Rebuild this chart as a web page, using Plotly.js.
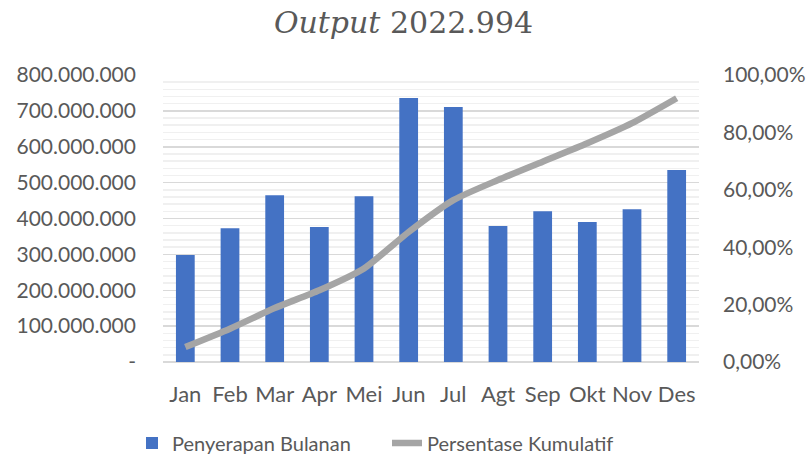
<!DOCTYPE html>
<html>
<head>
<meta charset="utf-8">
<script src="https://cdn.plot.ly/plotly-3.0.1.min.js"></script>
<style>html,body{margin:0;padding:0;background:#fff;}#chart{width:807px;height:459px;}</style>
</head>
<body>
<div id="chart"></div>
<script>
const months = ["Jan","Feb","Mar","Apr","Mei","Jun","Jul","Agt","Sep","Okt","Nov","Des"];
const penyerapanBulanan = [298e6,373e6,465e6,376e6,462e6,736e6,711e6,379e6,420e6,390e6,426e6,535e6];
const persentaseKumulatif = [0.052,0.116,0.188,0.250,0.326,0.453,0.564,0.634,0.698,0.762,0.832,0.919];
const leftTickVals = [0,100e6,200e6,300e6,400e6,500e6,600e6,700e6,800e6];
const leftTickText = ["-","100.000.000","200.000.000","300.000.000","400.000.000","500.000.000","600.000.000","700.000.000","800.000.000"];
const rightTickVals = [0,0.2,0.4,0.6,0.8,1.0];

const font = "Lato, 'Open Sans', sans-serif";
const txt = "#595959";

const traces = [
  {
    type: "bar", name: "Penyerapan Bulanan", x: months, y: penyerapanBulanan,
    marker: {color: "#4472C4"}, width: 0.42, hoverinfo: "x+y"
  },
  {
    type: "scatter", mode: "lines", name: "Persentase Kumulatif", x: months, y: persentaseKumulatif,
    yaxis: "y2", line: {color: "#A5A5A5", width: 6.5, shape: "spline", smoothing: 0.6}
  }
];

const layout = {
  width: 807, height: 459,
  margin: {l: 163, r: 108, t: 75, b: 97, pad: 0},
  paper_bgcolor: "#ffffff", plot_bgcolor: "#ffffff",
  separators: ",.",
  font: {family: font, color: txt, size: 20},
  showlegend: true,
  title: {
    text: "<i>Output</i> 2022.994",
    font: {family: "'DejaVu Serif', serif", size: 30, color: txt},
    x: 0.5, xref: "container", xanchor: "center",
    y: 1 - 22/459, yref: "container", yanchor: "middle"
  },
  xaxis: {
    type: "category", showgrid: false, zeroline: false, showline: false,
    ticks: "", ticklabelstandoff: 17,
    tickfont: {family: font, size: 22, color: txt}
  },
  yaxis: {
    range: [0, 800e6], tickvals: leftTickVals, ticktext: leftTickText,
    showgrid: true, gridcolor: "#D9D9D9", gridwidth: 1.5,
    minor: {dtick: 20e6, showgrid: true, gridcolor: "#F0F0F0", gridwidth: 1.5},
    zeroline: true, zerolinecolor: "#D9D9D9", zerolinewidth: 1.5,
    showline: false, ticks: "", ticklabelstandoff: 26,
    tickfont: {family: font, size: 21, color: txt}, fixedrange: true
  },
  yaxis2: {
    overlaying: "y", side: "right", range: [0, 1], tickvals: rightTickVals,
    tickformat: ".2%", showgrid: false, zeroline: false, showline: false,
    ticks: "", ticklabelstandoff: 23,
    tickfont: {family: font, size: 21, color: txt}, fixedrange: true
  },
  legend: {
    orientation: "h", xref: "container", x: 132/807, xanchor: "left",
    yref: "container", y: 1 - 443/459, yanchor: "middle",
    font: {family: font, size: 20, color: txt},
    entrywidth: 210, traceorder: "normal", bgcolor: "rgba(0,0,0,0)"
  },
  bargap: 0.58
};

Plotly.newPlot("chart", traces, layout, {displayModeBar: false, staticPlot: true});
</script>
</body>
</html>
